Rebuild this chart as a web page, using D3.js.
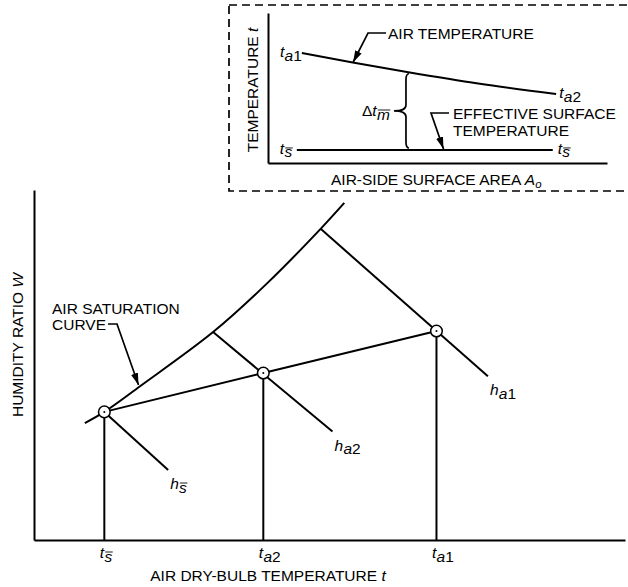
<!DOCTYPE html>
<html>
<head>
<meta charset="utf-8">
<script src="https://cdn.jsdelivr.net/npm/d3@7"></script>
<style>
  body { margin: 0; background: #fff; }
  svg { display: block; }
  text { font-family: "Liberation Sans", Arial, sans-serif; font-size: 15.5px; fill: #000; }
</style>
</head>
<body>
<svg id="chart" width="628" height="587"></svg>
<script>
// main chart: dry-bulb temperature vs humidity ratio (arbitrary 0-100 units)
const satT = [8.6, 11.9, 18.0, 30.3, 39.3, 48.5, 52.5]
const satW = [33.4, 36.6, 44.0, 59.4, 73.1, 88.9, 96.3]

const stateNames = ["s", "a2", "a1"]
const stateT = [11.9, 38.8, 68.1]
const stateW = [36.6, 47.7, 59.7]

// enthalpy lines, from the saturation curve down to the right
const hStartT = [11.9, 30.3, 48.5]
const hStartW = [36.6, 59.4, 88.9]
const hEndT = [22.7, 50.5, 76.8]
const hEndW = [20.0, 31.0, 46.8]

// inset: temperature along the air-side surface area
const airA = [10, 25, 41, 62, 85]
const airT = [73.3, 67.0, 60.7, 53.0, 46.0]
const surfA = [8.5, 84]
const surfT = [8.7, 8.7]
const braceA = 40.7
const braceT = [59.5, 10]

const svg = d3.select("#chart")

svg.append("defs").append("marker")
  .attr("id", "arrow")
  .attr("viewBox", "0 0 10 10")
  .attr("refX", 10).attr("refY", 5)
  .attr("markerUnits", "userSpaceOnUse")
  .attr("markerWidth", 12).attr("markerHeight", 12)
  .attr("orient", "auto")
  .append("path").attr("d", "M0,2L10,5L0,8Z").attr("fill", "#000")

// italic letter with a subscript (letters italic, digits upright), optional bar over it
function subText(g, x, y, main, sub, bar) {
  const t = g.append("text").attr("x", x).attr("y", y).attr("font-style", "italic").text(main)
  const w = t.node().getComputedTextLength()
  const s = g.append("text").attr("x", x + w + 0.3).attr("y", y + 3.5).attr("font-size", 11.5)
  sub.split("").forEach((c) => {
    s.append("tspan").attr("font-style", /\d/.test(c) ? "normal" : "italic").text(c)
  })
  if (bar) {
    const b = s.node().getBBox()
    g.append("line")
      .attr("x1", b.x + 0.8).attr("x2", b.x + b.width + 0.3)
      .attr("y1", y + 3.5 - 9.5).attr("y2", y + 3.5 - 9.5)
      .attr("stroke", "#000").attr("stroke-width", 0.9)
  }
}

function leader(g, pts) {
  g.append("path")
    .attr("d", d3.line()(pts))
    .attr("fill", "none").attr("stroke", "#000").attr("stroke-width", 1.7)
    .attr("marker-end", "url(#arrow)")
}

// ---------- main chart ----------
const x = d3.scaleLinear().domain([0, 100]).range([34, 625])
const y = d3.scaleLinear().domain([0, 100]).range([540, 190])
const main = svg.append("g")

main.append("g").attr("transform", `translate(0,${y(0)})`)
  .call(d3.axisBottom(x).tickValues([]).tickSizeOuter(0))
main.append("g").attr("transform", `translate(${x(0)},0)`)
  .call(d3.axisLeft(y).tickValues([]).tickSizeOuter(0))
main.selectAll(".domain").attr("stroke", "#000").attr("stroke-width", 2)

const lineStyle = (sel) => sel.attr("fill", "none").attr("stroke", "#000").attr("stroke-width", 2)

main.append("path")
  .attr("d", d3.line().x((d, i) => x(satT[i])).y((d, i) => y(satW[i])).curve(d3.curveCatmullRom.alpha(0.5))(satT))
  .call(lineStyle)

main.append("path")
  .attr("d", d3.line().x((d, i) => x(stateT[i])).y((d, i) => y(stateW[i]))(stateT))
  .call(lineStyle)

main.selectAll(".vert").data(stateT).enter().append("line")
  .attr("x1", (d) => x(d)).attr("x2", (d) => x(d))
  .attr("y1", (d, i) => y(stateW[i])).attr("y2", y(0))
  .call(lineStyle)

main.selectAll(".hline").data(hStartT).enter().append("line")
  .attr("x1", (d) => x(d)).attr("y1", (d, i) => y(hStartW[i]))
  .attr("x2", (d, i) => x(hEndT[i])).attr("y2", (d, i) => y(hEndW[i]))
  .call(lineStyle)

main.selectAll(".pt").data(stateT).enter().append("circle")
  .attr("cx", (d) => x(d)).attr("cy", (d, i) => y(stateW[i])).attr("r", 5.8)
  .attr("fill", "#fff").attr("stroke", "#000").attr("stroke-width", 1.5)
main.selectAll(".dot").data(stateT).enter().append("circle")
  .attr("cx", (d) => x(d)).attr("cy", (d, i) => y(stateW[i])).attr("r", 1)
  .attr("fill", "#000")

stateT.forEach((d, i) => subText(main, x(d) - 4.5, 558, "t", stateNames[i], stateNames[i] === "s"))
hEndT.forEach((d, i) => subText(main, x(d) + 2, y(hEndW[i]) + 19, "h", stateNames[i], stateNames[i] === "s"))

const xt = main.append("text").attr("x", 268).attr("y", 581).attr("text-anchor", "middle")
xt.append("tspan").text("AIR DRY-BULB TEMPERATURE ")
xt.append("tspan").attr("font-style", "italic").text("t")

const yt = main.append("text").attr("transform", "translate(23,345) rotate(-90)").attr("text-anchor", "middle")
yt.append("tspan").text("HUMIDITY RATIO ")
yt.append("tspan").attr("font-style", "italic").text("W")

main.append("text").attr("x", 52).attr("y", 314).text("AIR SATURATION")
main.append("text").attr("x", 52).attr("y", 330).text("CURVE")
leader(main, [[108, 324], [117, 324], [138.5, 385]])

// ---------- inset ----------
const inset = svg.append("g")
inset.append("rect").attr("x", 229).attr("y", 5).attr("width", 410).attr("height", 186)
  .attr("fill", "#fff").attr("stroke", "#000").attr("stroke-width", 1.7)
  .attr("stroke-dasharray", "8,5")

const ix = d3.scaleLinear().domain([0, 100]).range([268, 607])
const iy = d3.scaleLinear().domain([0, 100]).range([163, 13])

inset.append("g").attr("transform", `translate(0,${iy(0)})`)
  .call(d3.axisBottom(ix).tickValues([]).tickSizeOuter(0))
inset.append("g").attr("transform", `translate(${ix(0)},0)`)
  .call(d3.axisLeft(iy).tickValues([]).tickSizeOuter(0))
inset.selectAll(".domain").attr("stroke", "#000").attr("stroke-width", 2)

inset.append("path")
  .attr("d", d3.line().x((d, i) => ix(airA[i])).y((d, i) => iy(airT[i])).curve(d3.curveMonotoneX)(airA))
  .call(lineStyle)
inset.append("path")
  .attr("d", d3.line().x((d, i) => ix(surfA[i])).y((d, i) => iy(surfT[i]))(surfA))
  .call(lineStyle)

// brace for the mean temperature difference
const bx = ix(braceA), bt = iy(braceT[0]), bb = iy(braceT[1]), bm = (bt + bb) / 2
inset.append("path")
  .attr("d", `M${bx + 3},${bt} Q${bx},${bt} ${bx},${bt + 6} L${bx},${bm - 6} Q${bx},${bm} ${bx - 12},${bm}` +
    ` Q${bx},${bm} ${bx},${bm + 6} L${bx},${bb - 6} Q${bx},${bb} ${bx + 3},${bb}`)
  .attr("fill", "none").attr("stroke", "#000").attr("stroke-width", 1.7)

const dl = inset.append("text").attr("x", 362).attr("y", 116)
dl.append("tspan").text("Δ")
const dt = dl.node().getComputedTextLength()
subText(inset, 362 + dt, 116, "t", "m", true)

subText(inset, ix(airA[0]) - 22, iy(airT[0]) + 4, "t", "a1", false)
subText(inset, ix(airA[airA.length - 1]) + 3, iy(airT[airT.length - 1]) + 4, "t", "a2", false)
subText(inset, ix(surfA[0]) - 17, iy(surfT[0]) + 4, "t", "s", true)
subText(inset, ix(surfA[1]) + 5, iy(surfT[1]) + 4, "t", "s", true)

inset.append("text").attr("x", 388).attr("y", 39).text("AIR TEMPERATURE")
leader(inset, [[386, 33], [368, 33], [353, 62.5]])
inset.append("text").attr("x", 453).attr("y", 119).text("EFFECTIVE SURFACE")
inset.append("text").attr("x", 453).attr("y", 135.5).text("TEMPERATURE")
leader(inset, [[449, 113], [431, 113], [443.5, 149]])

const it = inset.append("text").attr("transform", "translate(258,90) rotate(-90)").attr("text-anchor", "middle")
it.append("tspan").text("TEMPERATURE ")
it.append("tspan").attr("font-style", "italic").text("t")

const ia = inset.append("text").attr("x", 331).attr("y", 184.5)
ia.append("tspan").text("AIR-SIDE SURFACE AREA ")
ia.append("tspan").attr("font-style", "italic").text("A")
ia.append("tspan").attr("font-style", "italic").attr("font-size", 11.5).attr("dy", 3).text("o")
</script>
</body>
</html>
